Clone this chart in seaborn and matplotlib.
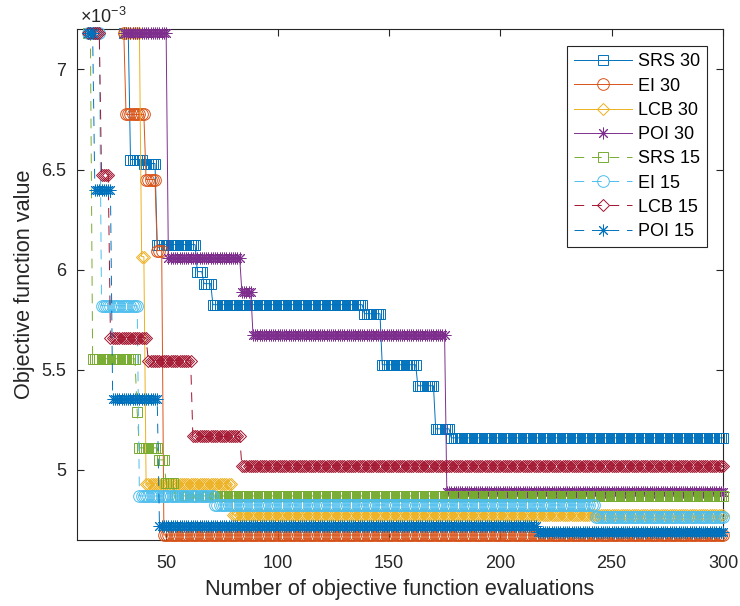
import numpy as np
import pandas as pd
import matplotlib
matplotlib.use("Agg")
import matplotlib.pyplot as plt
from matplotlib.ticker import FuncFormatter, FixedLocator
import seaborn as sns

# Best-so-far objective value (x 1e-3): evaluation index where each level starts, and level value
srs30_x = [31, 34, 40, 46, 64, 67, 71, 139, 147, 163, 171, 178]
srs30_y = [7.18, 6.55, 6.53, 6.125, 5.99, 5.93, 5.825, 5.78, 5.525, 5.42, 5.205, 5.16]
ei30_x = [31, 32, 41, 46, 49]
ei30_y = [7.18, 6.775, 6.45, 6.095, 4.675]
lcb30_x = [31, 39, 41, 80]
lcb30_y = [7.18, 6.065, 4.93, 4.775]
poi30_x = [31, 51, 84, 89, 176]
poi30_y = [7.18, 6.06, 5.89, 5.673, 4.89]
srs15_x = [15, 17, 37, 38, 47, 50, 54]
srs15_y = [7.18, 5.555, 5.29, 5.11, 5.05, 4.935, 4.87]
ei15_x = [15, 21, 38, 72, 243]
ei15_y = [7.18, 5.82, 4.87, 4.825, 4.765]
lcb15_x = [15, 21, 25, 42, 62, 84]
lcb15_y = [7.18, 6.475, 5.66, 5.545, 5.167, 5.02]
poi15_x = [15, 18, 26, 47, 217]
poi15_y = [7.18, 6.40, 5.353, 4.72, 4.688]
last_eval = 300

labels = ["SRS 30", "EI 30", "LCB 30", "POI 30", "SRS 15", "EI 15", "LCB 15", "POI 15"]
starts = [srs30_x, ei30_x, lcb30_x, poi30_x, srs15_x, ei15_x, lcb15_x, poi15_x]
levels = [srs30_y, ei30_y, lcb30_y, poi30_y, srs15_y, ei15_y, lcb15_y, poi15_y]

colors = ["#0072BD", "#D95319", "#EDB120", "#7E2F8E",
          "#77AC30", "#4DBEEE", "#A2142F", "#0072BD"]
markers = ["s", "o", "D", (8, 2, 0), "s", "o", "D", (8, 2, 0)]
msizes = [6.8, 8.4, 6.6, 8.4, 6.8, 8.4, 6.6, 8.4]
dash = (0, (10, 8))
lstyles = ["-", "-", "-", "-", dash, dash, dash, dash]


def step_series(st, lv, end):
    st = np.asarray(st)
    counts = np.diff(np.append(st, end + 1))
    x = np.arange(st[0], end + 1)
    y = np.repeat(np.asarray(lv) * 1e-3, counts)
    return pd.DataFrame({"evals": x, "value": y})


plt.rcParams["font.family"] = ["Liberation Sans", "DejaVu Sans"]
plt.rcParams["mathtext.fontset"] = "custom"
plt.rcParams["mathtext.rm"] = "Liberation Sans"
plt.rcParams["mathtext.it"] = "Liberation Sans:italic"

ink = "#262626"
fig = plt.figure(figsize=(7.4, 6.06), dpi=100)
ax = fig.add_axes([0.1041, 0.1089, 0.873, 0.8427])

for lab, st, lv, c, m, ms, ls in zip(labels, starts, levels, colors, markers, msizes, lstyles):
    df = step_series(st, lv, last_eval)
    sns.lineplot(data=df, x="evals", y="value", ax=ax, color=c, marker=m,
                 markersize=ms, markerfacecolor="none", markeredgecolor=c,
                 markeredgewidth=0.7, linewidth=0.7, linestyle=ls,
                 label=lab, estimator=None, clip_on=False)

ax.set_xlim(10, 300)
ax.set_ylim(4.65e-3, 7.2e-3)
ax.xaxis.set_major_locator(FixedLocator([50, 100, 150, 200, 250, 300]))
ax.yaxis.set_major_locator(FixedLocator([5e-3, 5.5e-3, 6e-3, 6.5e-3, 7e-3]))
ax.yaxis.set_major_formatter(FuncFormatter(lambda v, p: f"{v * 1e3:g}"))

ax.tick_params(direction="in", top=True, right=True, length=5, width=0.8,
               color=ink, labelcolor=ink, labelsize=13)
ax.tick_params(axis="y", pad=8)
ax.tick_params(axis="x", pad=11)
for s in ax.spines.values():
    s.set_color(ink)
    s.set_linewidth(0.8)
    s.set_zorder(0.5)

ax.set_xlabel("Number of objective function evaluations", fontsize=15.6, color=ink, labelpad=5)
ax.set_ylabel("Objective function value", fontsize=15.6, color=ink, labelpad=4)

ax.annotate(r"$\times10^{-3}$", xy=(0, 1), xycoords="axes fraction",
            xytext=(2, 2), textcoords="offset points", ha="left", va="bottom",
            fontsize=13, color=ink)

leg = ax.legend(loc="upper right", bbox_to_anchor=(0.975, 0.967), borderaxespad=0,
                fontsize=13, handlelength=3.2, handletextpad=0.3, labelspacing=0.4,
                borderpad=0.4, fancybox=False, framealpha=1, edgecolor="#262626")
leg.get_frame().set_linewidth(0.8)
leg.set_zorder(10)

fig.savefig("out.png", dpi=100)
